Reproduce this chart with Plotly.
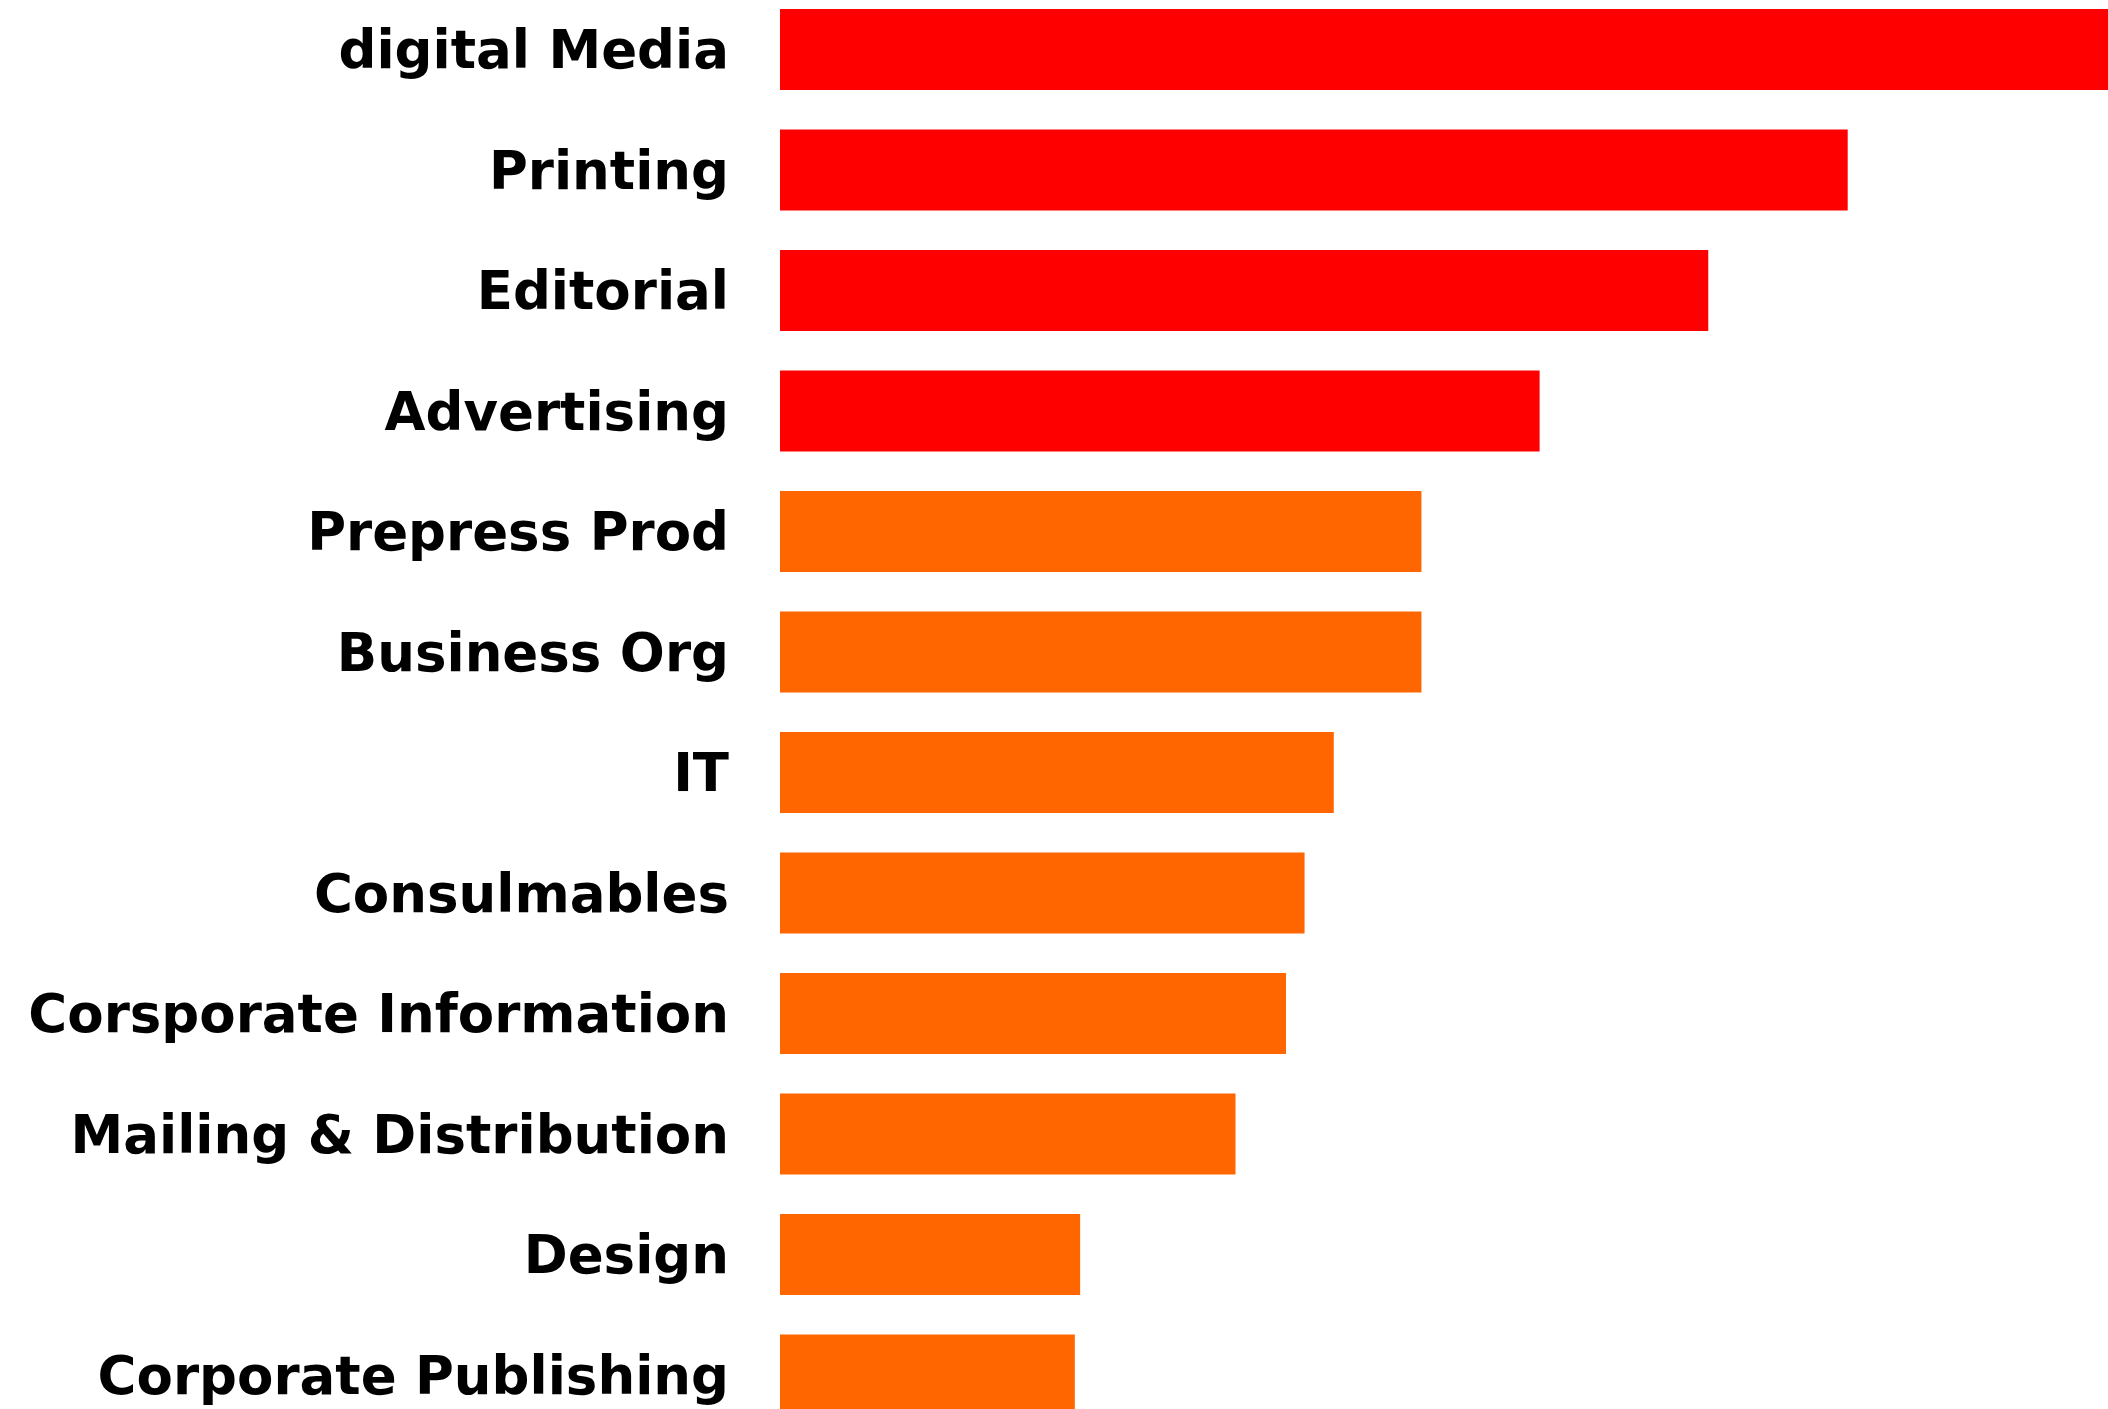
import plotly.graph_objects as go

# Categories, top to bottom
categories = [
    "digital Media", "Printing", "Editorial", "Advertising",
    "Prepress Prod", "Business Org", "IT", "Consulmables",
    "Corsporate Information", "Mailing & Distribution",
    "Design", "Corporate Publishing",
]
# Relative scores (digital Media = 100)
scores = [100, 80.4, 69.9, 57.2, 48.3, 48.3, 41.7, 39.5, 38.1, 34.3, 22.6, 22.2]
# Top four highlighted in red, the rest orange
colors = ["#FF0000"] * 4 + ["#FF6600"] * 8

fig = go.Figure(
    go.Bar(
        x=scores,
        y=categories,
        orientation="h",
        marker=dict(color=colors, line=dict(width=0)),
        width=0.672,
    )
)

fig.update_layout(
    width=2108,
    height=1409,
    margin=dict(l=780, r=0, t=0, b=0),
    paper_bgcolor="white",
    plot_bgcolor="white",
    showlegend=False,
    font=dict(family="DejaVu Sans", color="black"),
)
fig.update_xaxes(
    range=[0, 100],
    visible=False,
    showgrid=False,
    zeroline=False,
)
fig.update_yaxes(
    type="category",
    categoryorder="array",
    categoryarray=categories,
    range=[11.282, -0.411],
    showgrid=False,
    zeroline=False,
    showline=False,
    ticks="",
    ticklabelstandoff=50,
    tickfont=dict(family="DejaVu Sans", size=53, color="black", weight="bold"),
)

fig.write_html("out.html")
